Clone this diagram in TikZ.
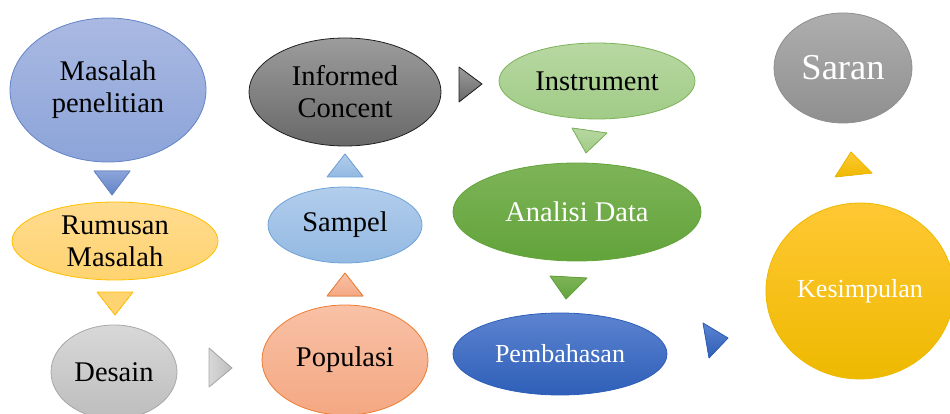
\documentclass[tikz,border=0pt]{standalone}
\usepackage{fontspec}
\setmainfont{Liberation Serif}
\usetikzlibrary{shapes.geometric}
\definecolor{biruTop}{RGB}{170,185,226}
\definecolor{biruBot}{RGB}{140,164,217}
\definecolor{biruGaris}{RGB}{99,132,200}
\definecolor{kuningTop}{RGB}{255,219,143}
\definecolor{kuningBot}{RGB}{255,211,112}
\definecolor{kuningGaris}{RGB}{255,192,0}
\definecolor{abuTop}{RGB}{216,216,216}
\definecolor{abuBot}{RGB}{189,189,189}
\definecolor{abuGaris}{RGB}{168,168,168}
\definecolor{jinggaTop}{RGB}{248,193,166}
\definecolor{jinggaBot}{RGB}{244,168,130}
\definecolor{jinggaGaris}{RGB}{237,125,49}
\definecolor{langitTop}{RGB}{178,205,236}
\definecolor{langitBot}{RGB}{147,185,226}
\definecolor{langitGaris}{RGB}{111,163,216}
\definecolor{gelapTop}{RGB}{156,156,156}
\definecolor{gelapBot}{RGB}{104,104,104}
\definecolor{gelapGaris}{RGB}{32,32,32}
\definecolor{hijauMudaTop}{RGB}{184,216,162}
\definecolor{hijauMudaBot}{RGB}{160,203,134}
\definecolor{hijauMudaGaris}{RGB}{125,179,90}
\definecolor{hijauTop}{RGB}{126,180,88}
\definecolor{hijauBot}{RGB}{98,163,58}
\definecolor{ungguTop}{RGB}{92,131,208}
\definecolor{ungguBot}{RGB}{46,95,184}
\definecolor{emasTop}{RGB}{255,200,52}
\definecolor{emasBot}{RGB}{238,185,0}
\definecolor{saranTop}{RGB}{174,174,174}
\definecolor{saranBot}{RGB}{143,143,143}

\tikzset{
  bubble/.style={ellipse, draw, line width=0.8pt, inner sep=0pt, align=center,
    font=\fontsize{28.5}{32}\selectfont},
  bubblekecil/.style={bubble, font=\fontsize{26}{30}\selectfont},
  panah/.style={line width=0.8pt, line join=round},
}

\begin{document}
\begin{tikzpicture}[x=1pt,y=-1pt]

    \useasboundingbox (0,0) rectangle (950,414);
    \clip (0,0) rectangle (950,414);

    % kolom kiri

    \node[bubble, minimum width=196pt, minimum height=144pt, draw=biruGaris,
      top color=biruTop, bottom color=biruBot] (masalah) at (108,90) {Masalah\\penelitian};
    \node[bubble, minimum width=206pt, minimum height=78pt, draw=kuningGaris,
      top color=kuningTop, bottom color=kuningBot] (rumusan) at (115,241) {Rumusan\\Masalah};
    \node[bubble, minimum width=126pt, minimum height=94pt, draw=abuGaris,
      top color=abuTop, bottom color=abuBot] (desain) at (114,372) {Desain};

    % kolom tengah

    \node[bubble, minimum width=166pt, minimum height=110pt, draw=jinggaGaris,
      top color=jinggaTop, bottom color=jinggaBot] (populasi) at (345,360) {Populasi};
    \node[bubble, minimum width=154pt, minimum height=76pt, draw=langitGaris,
      top color=langitTop, bottom color=langitBot] (sampel) at (345,225) {Sampel};
    \node[bubble, minimum width=192pt, minimum height=108pt, draw=gelapGaris,
      top color=gelapTop, bottom color=gelapBot] (informed) at (345,92) {Informed\\Concent};

    % kolom hijau dan biru

    \node[bubble, minimum width=196pt, minimum height=76pt, draw=hijauMudaGaris,
      top color=hijauMudaTop, bottom color=hijauMudaBot] (instrument) at (597,81) {Instrument};
    \node[bubble, minimum width=248pt, minimum height=98pt, draw=hijauBot, text=white,
      top color=hijauTop, bottom color=hijauBot] (analisi) at (577,212) {Analisi Data};
    \node[bubblekecil, minimum width=214pt, minimum height=82pt, draw=ungguBot, text=white,
      top color=ungguTop, bottom color=ungguBot] (pembahasan) at (560,354) {Pembahasan};

    % kolom kanan

    \node[bubblekecil, minimum width=188pt, minimum height=176pt, draw=emasBot, text=white,
      top color=emasTop, bottom color=emasBot] (kesimpulan) at (860,291) {Kesimpulan};
    \node[bubble, minimum width=138pt, minimum height=110pt, draw=saranBot, text=white,
      font=\fontsize{36.5}{40}\selectfont,
      top color=saranTop, bottom color=saranBot] (saran) at (843,68) {Saran};

    % segitiga penunjuk arah

    \filldraw[panah, draw=biruGaris, top color=biruBot, bottom color=biruGaris]
      (94,171) -- (130,171) -- (112,195) -- cycle;
    \filldraw[panah, draw=kuningGaris, top color=kuningBot, bottom color=kuningBot]
      (97,292) -- (133,292) -- (115,315) -- cycle;
    \filldraw[panah, draw=abuGaris, left color=abuTop, right color=abuBot]
      (209,348) -- (232,368) -- (209,387) -- cycle;
    \filldraw[panah, draw=jinggaGaris, top color=jinggaTop, bottom color=jinggaBot]
      (327,296) -- (363,296) -- (345,273) -- cycle;
    \filldraw[panah, draw=langitGaris, top color=langitTop, bottom color=langitBot]
      (327,177) -- (363,177) -- (345,154) -- cycle;
    \filldraw[panah, draw=gelapGaris, top color=gelapTop, bottom color=gelapBot]
      (459,67) -- (482,84) -- (459,102) -- cycle;
    \filldraw[panah, draw=hijauMudaGaris, top color=hijauMudaTop, bottom color=hijauMudaBot]
      (572,128) -- (607,133) -- (586,153) -- cycle;
    \filldraw[panah, draw=hijauBot, top color=hijauTop, bottom color=hijauBot]
      (550,276) -- (587,278) -- (566,299) -- cycle;
    \filldraw[panah, draw=ungguBot, top color=ungguTop, bottom color=ungguBot]
      (703,323) -- (728,338) -- (709,358) -- cycle;
    \filldraw[panah, draw=emasBot, top color=emasTop, bottom color=emasBot]
      (835,177) -- (872,173) -- (851,152) -- cycle;

  \end{tikzpicture}
\end{document}
